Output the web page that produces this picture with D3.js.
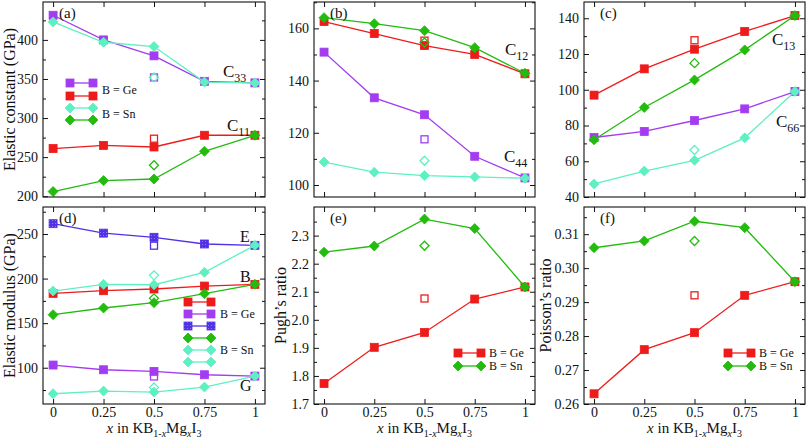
<!DOCTYPE html>
<html><head><meta charset="utf-8">
<script src="https://cdn.jsdelivr.net/npm/d3@7"></script>
<style>
body{margin:0;background:#fff}
svg{display:block}
text{font-family:"Liberation Serif","Times New Roman",serif;fill:#111}
</style>
</head><body><svg id="c" width="807" height="440"></svg>
<script>
// ---------- DATA ----------
const xVals = [0, 0.25, 0.5, 0.75, 1];
const xTickLabels = ["0", "0.25", "0.5", "0.75", "1"];
const openX = 0.5;

// (a) C33, C11
const c33Ge = [431.5, 400, 379.6, 347, 345];
const c11Ge = [261, 265, 263, 278, 278];
const c33Sn = [423, 397, 391.5, 346, 345];
const c11Sn = [206, 220, 222, 257.5, 278];
const openA = [352, 273.6, 352, 239.6]; // c33Ge, c11Ge, c33Sn, c11Sn at x=0.5

// (b) C12, C44
const c12Ge = [162.6, 158, 153.4, 150, 142.6];
const c44Ge = [150.9, 133.4, 126.9, 111, 102.7];
const c12Sn = [164.1, 161.8, 159.1, 152.6, 142.8];
const c44Sn = [108.8, 104.9, 103.6, 103.1, 102.6];
const openB = [155.3, 117.5, 154.6, 109.3]; // c12Ge, c44Ge, c12Sn, c44Sn

// (c) C13, C66
const c13Ge = [97, 111.7, 122.7, 132.6, 141.5];
const c66Ge = [73.3, 76.7, 82.8, 89.3, 99];
const c13Sn = [72, 90.1, 105.5, 122.3, 141.5];
const c66Sn = [47.3, 54.5, 60.5, 73.1, 99];
const openC = [127.7, null, 114.9, 66.3]; // c13Ge, c66Ge, c13Sn, c66Sn

// (d) B, G, E
const bGe = [183.4, 186.4, 188.3, 191.6, 193.5];
const gGe = [103, 97.7, 95.9, 92.1, 90.6];
const eGe = [261.6, 251, 246.3, 238.8, 237.3];
const bSn = [159.5, 167, 173, 183, 193.5];
const gSn = [70.8, 73.8, 72.7, 78.3, 90.6];
const eSn = [186, 193.5, 193.1, 207, 237.3];
const openD = [null, 90.2, 236.9, 177.8, 77.9, 203.6]; // bGe, gGe, eGe, bSn, gSn, eSn

// (e) Pugh's ratio
const pughGe = [1.773, 1.902, 1.955, 2.074, 2.117];
const pughSn = [2.241, 2.263, 2.359, 2.325, 2.117];
const openE = [2.076, 2.264];

// (f) Poisson's ratio
const poissonGe = [0.263, 0.276, 0.281, 0.292, 0.296];
const poissonSn = [0.306, 0.308, 0.3138, 0.3119, 0.296];
const openF = [0.292, 0.308];

// y-axis tick values
const ticksA = [200, 250, 300, 350, 400];
const ticksB = [100, 120, 140, 160];
const ticksC = [40, 60, 80, 100, 120, 140];
const ticksD = [100, 150, 200, 250];
const ticksE = [1.7, 1.8, 1.9, 2.0, 2.1, 2.2, 2.3];
const ticksF = [0.26, 0.27, 0.28, 0.29, 0.30, 0.31];

// ---------- STYLE ----------
const COL = {purple: "#a33cf0", red: "#ee1b1b", aqua: "#5ef0c2", green: "#22bb0e", blue: "#5230e6"};
const svg = d3.select("#c");
const defs = svg.append("defs");
const pat = defs.append("pattern").attr("id", "hatch").attr("patternUnits", "userSpaceOnUse")
  .attr("width", 3).attr("height", 3);
pat.append("rect").attr("width", 3).attr("height", 3).attr("fill", COL.blue);
pat.append("rect").attr("x", 1).attr("y", 1).attr("width", 1).attr("height", 1).attr("fill", "#8f7cf2");

function marker(g, shape, cx, cy, color, open) {
  if (shape === "sq") {
    const s = open ? 7 : 8;
    g.append("rect").attr("x", cx - s / 2).attr("y", cy - s / 2).attr("width", s).attr("height", s)
      .attr("fill", open ? "none" : (color === COL.blue ? "url(#hatch)" : color))
      .attr("stroke", color).attr("stroke-width", open ? 1.3 : 0.8);
  } else {
    const r = open ? 4.5 : 5;
    g.append("path").attr("d", `M${cx},${cy - r}L${cx + r},${cy}L${cx},${cy + r}L${cx - r},${cy}Z`)
      .attr("fill", open ? "none" : color).attr("stroke", color).attr("stroke-width", open ? 1.3 : 0.8);
  }
}

function panel(cfg) {
  const x = d3.scaleLinear().domain([-0.05, 1.05]).range([cfg.x0, cfg.x1]);
  const y = d3.scaleLinear().domain(cfg.yDomain).range([cfg.y1, cfg.y0]);
  const g = svg.append("g");
  const step = cfg.ticks[1] - cfg.ticks[0];
  const minors = [];
  for (let i = 0; i < cfg.ticks.length + 1; i++) {
    const v = cfg.ticks[0] + step * (i - 0.5);
    if (v >= cfg.yDomain[0] && v <= cfg.yDomain[1]) minors.push(v);
  }
  const ax = (gen, tx, ty) => {
    const a = g.append("g").attr("transform", `translate(${tx},${ty})`).call(gen);
    a.select(".domain").remove();
    a.selectAll("line").attr("stroke", "#111");
    a.selectAll("text").attr("font-size", 14).attr("fill", "#111")
      .attr("font-family", '"Liberation Serif","Times New Roman",serif');
    return a;
  };
  ax(d3.axisLeft(y).tickValues(cfg.ticks).tickSize(-5).tickPadding(5).tickFormat(cfg.fmt), cfg.x0, 0);
  ax(d3.axisLeft(y).tickValues(minors).tickSize(-3).tickFormat(""), cfg.x0, 0);
  ax(d3.axisRight(y).tickValues(cfg.ticks).tickSize(-5).tickFormat(""), cfg.x1, 0);
  ax(d3.axisRight(y).tickValues(minors).tickSize(-3).tickFormat(""), cfg.x1, 0);
  ax(d3.axisTop(x).tickValues(xVals).tickSize(-5).tickFormat(""), 0, cfg.y0);
  const bx = ax(d3.axisBottom(x).tickValues(xVals).tickSize(-5).tickPadding(3)
    .tickFormat((d, i) => cfg.xlabels ? xTickLabels[i] : ""), 0, cfg.y1);
  bx.selectAll("text").attr("font-size", 14);

  g.append("rect").attr("x", cfg.x0).attr("y", cfg.y0).attr("width", cfg.x1 - cfg.x0)
    .attr("height", cfg.y1 - cfg.y0).attr("fill", "none").attr("stroke", "#111").attr("stroke-width", 1.1);

  const line = d3.line().x((d, i) => x(xVals[i])).y(d => y(d));
  cfg.series.forEach(s => {
    g.append("path").attr("d", line(s.data)).attr("fill", "none").attr("stroke", s.color).attr("stroke-width", 1.3);
    s.data.forEach((v, i) => marker(g, s.shape, x(xVals[i]), y(v), s.color, false));
  });
  cfg.series.forEach((s, k) => {
    const v = cfg.open[k];
    if (v !== null && v !== undefined) marker(g, s.shape, x(openX), y(v), s.color, true);
  });

  // panel label
  g.append("text").attr("x", cfg.x0 + 16).attr("y", cfg.y0 + 16).attr("font-size", 15).text(cfg.label);

  // y title
  const cy = (cfg.y0 + cfg.y1) / 2;
  if (cfg.ytitle) g.append("text").attr("transform", `translate(${cfg.ytx},${cy}) rotate(-90)`).attr("text-anchor", "middle")
    .attr("dy", "0.35em").attr("font-size", 16).text(cfg.ytitle);

  // x title
  if (cfg.xlabels) {
    const t = g.append("text").attr("x", (cfg.x0 + cfg.x1) / 2).attr("y", 433).attr("text-anchor", "middle").attr("font-size", 15);
    t.append("tspan").attr("font-style", "italic").text("x");
    t.append("tspan").text(" in KB");
    t.append("tspan").attr("font-size", 10).attr("dy", 4).text("1-");
    t.append("tspan").attr("font-size", 10).attr("font-style", "italic").text("x");
    t.append("tspan").attr("dy", -4).text("Mg");
    t.append("tspan").attr("font-size", 10).attr("font-style", "italic").attr("dy", 4).text("x");
    t.append("tspan").attr("dy", -4).text("I");
    t.append("tspan").attr("font-size", 10).attr("dy", 4).text("3");
  }

  // curve labels
  (cfg.clabels || []).forEach(c => {
    const t = g.append("text").attr("x", c.x).attr("y", c.y).attr("font-size", c.sub ? 17 : 16);
    t.append("tspan").text(c.t);
    if (c.sub) t.append("tspan").attr("font-size", 12).attr("dy", 5).text(c.sub);
  });

  // legend
  if (cfg.legend) {
    const L = cfg.legend;
    cfg.series.forEach((s, k) => {
      const yy = L.rows[k];
      g.append("line").attr("x1", L.x1).attr("x2", L.x2).attr("y1", yy).attr("y2", yy)
        .attr("stroke", s.color).attr("stroke-width", 1.3);
      marker(g, s.shape, L.x1, yy, s.color, false);
      marker(g, s.shape, L.x2, yy, s.color, false);
    });
    L.texts.forEach(tx => g.append("text").attr("x", L.tx).attr("y", tx.y).attr("dy", "0.35em")
      .attr("font-size", 12).text(tx.t));
  }
}

const fmt0 = d3.format("d");
const rowTop = {y0: 2, y1: 197}, rowBot = {y0: 207, y1: 404};
const colA = {x0: 43, x1: 265}, colB = {x0: 314, x1: 535}, colC = {x0: 584, x1: 805};

panel({...colA, ...rowTop, yDomain: [199, 448.5], ticks: ticksA, fmt: fmt0, label: "(a)", ytx: 9,
  ytitle: "Elastic constant (GPa)", xlabels: false, open: openA,
  series: [
    {data: c33Ge, color: COL.purple, shape: "sq"},
    {data: c11Ge, color: COL.red, shape: "sq"},
    {data: c33Sn, color: COL.aqua, shape: "di"},
    {data: c11Sn, color: COL.green, shape: "di"}],
  clabels: [{x: 223, y: 77, t: "C", sub: "33"}, {x: 227, y: 131, t: "C", sub: "11"}],
  legend: {x1: 70, x2: 93, rows: [83, 96, 108, 120], tx: 102, texts: [{y: 90, t: "B = Ge"}, {y: 114, t: "B = Sn"}]}
});

panel({...colB, ...rowTop, yDomain: [95.4, 170.1], ticks: ticksB, fmt: fmt0, label: "(b)", ytx: 0,
  ytitle: "", xlabels: false, open: openB,
  series: [
    {data: c12Ge, color: COL.red, shape: "sq"},
    {data: c44Ge, color: COL.purple, shape: "sq"},
    {data: c12Sn, color: COL.green, shape: "di"},
    {data: c44Sn, color: COL.aqua, shape: "di"}],
  clabels: [{x: 505, y: 55, t: "C", sub: "12"}, {x: 504, y: 162, t: "C", sub: "44"}]
});

panel({...colC, ...rowTop, yDomain: [40, 149.1], ticks: ticksC, fmt: fmt0, label: "(c)", ytx: 0,
  ytitle: "", xlabels: false, open: openC,
  series: [
    {data: c13Ge, color: COL.red, shape: "sq"},
    {data: c66Ge, color: COL.purple, shape: "sq"},
    {data: c13Sn, color: COL.green, shape: "di"},
    {data: c66Sn, color: COL.aqua, shape: "di"}],
  clabels: [{x: 772, y: 45, t: "C", sub: "13"}, {x: 776, y: 127, t: "C", sub: "66"}]
});

panel({...colA, ...rowBot, yDomain: [59.3, 280.3], ticks: ticksD, fmt: fmt0, label: "(d)", ytx: 9,
  ytitle: "Elastic modulus (GPa)", xlabels: true, open: openD,
  series: [
    {data: bGe, color: COL.red, shape: "sq"},
    {data: gGe, color: COL.purple, shape: "sq"},
    {data: eGe, color: COL.blue, shape: "sq"},
    {data: bSn, color: COL.green, shape: "di"},
    {data: gSn, color: COL.aqua, shape: "di"},
    {data: eSn, color: COL.aqua, shape: "di"}],
  clabels: [{x: 240, y: 242, t: "E"}, {x: 240, y: 282, t: "B"}, {x: 240, y: 391, t: "G"}],
  legend: {x1: 188, x2: 211, rows: [302, 314, 326, 338, 350, 362], tx: 220, texts: [{y: 314, t: "B = Ge"}, {y: 350, t: "B = Sn"}]}
});

panel({...colB, ...rowBot, yDomain: [1.7, 2.402], ticks: ticksE, fmt: d3.format(".1f"), label: "(e)", ytx: 280,
  ytitle: "Pugh’s ratio", xlabels: true, open: openE,
  series: [
    {data: pughGe, color: COL.red, shape: "sq"},
    {data: pughSn, color: COL.green, shape: "di"}],
  legend: {x1: 458, x2: 481, rows: [353, 366], tx: 489, texts: [{y: 353, t: "B = Ge"}, {y: 366, t: "B = Sn"}]}
});

panel({...colC, ...rowBot, yDomain: [0.26, 0.318], ticks: ticksF, fmt: d3.format(".2f"), label: "(f)", ytx: 545,
  ytitle: "Poisson’s ratio", xlabels: true, open: openF,
  series: [
    {data: poissonGe, color: COL.red, shape: "sq"},
    {data: poissonSn, color: COL.green, shape: "di"}],
  legend: {x1: 728, x2: 751, rows: [353, 366], tx: 759, texts: [{y: 353, t: "B = Ge"}, {y: 366, t: "B = Sn"}]}
});
</script>
</body></html>
